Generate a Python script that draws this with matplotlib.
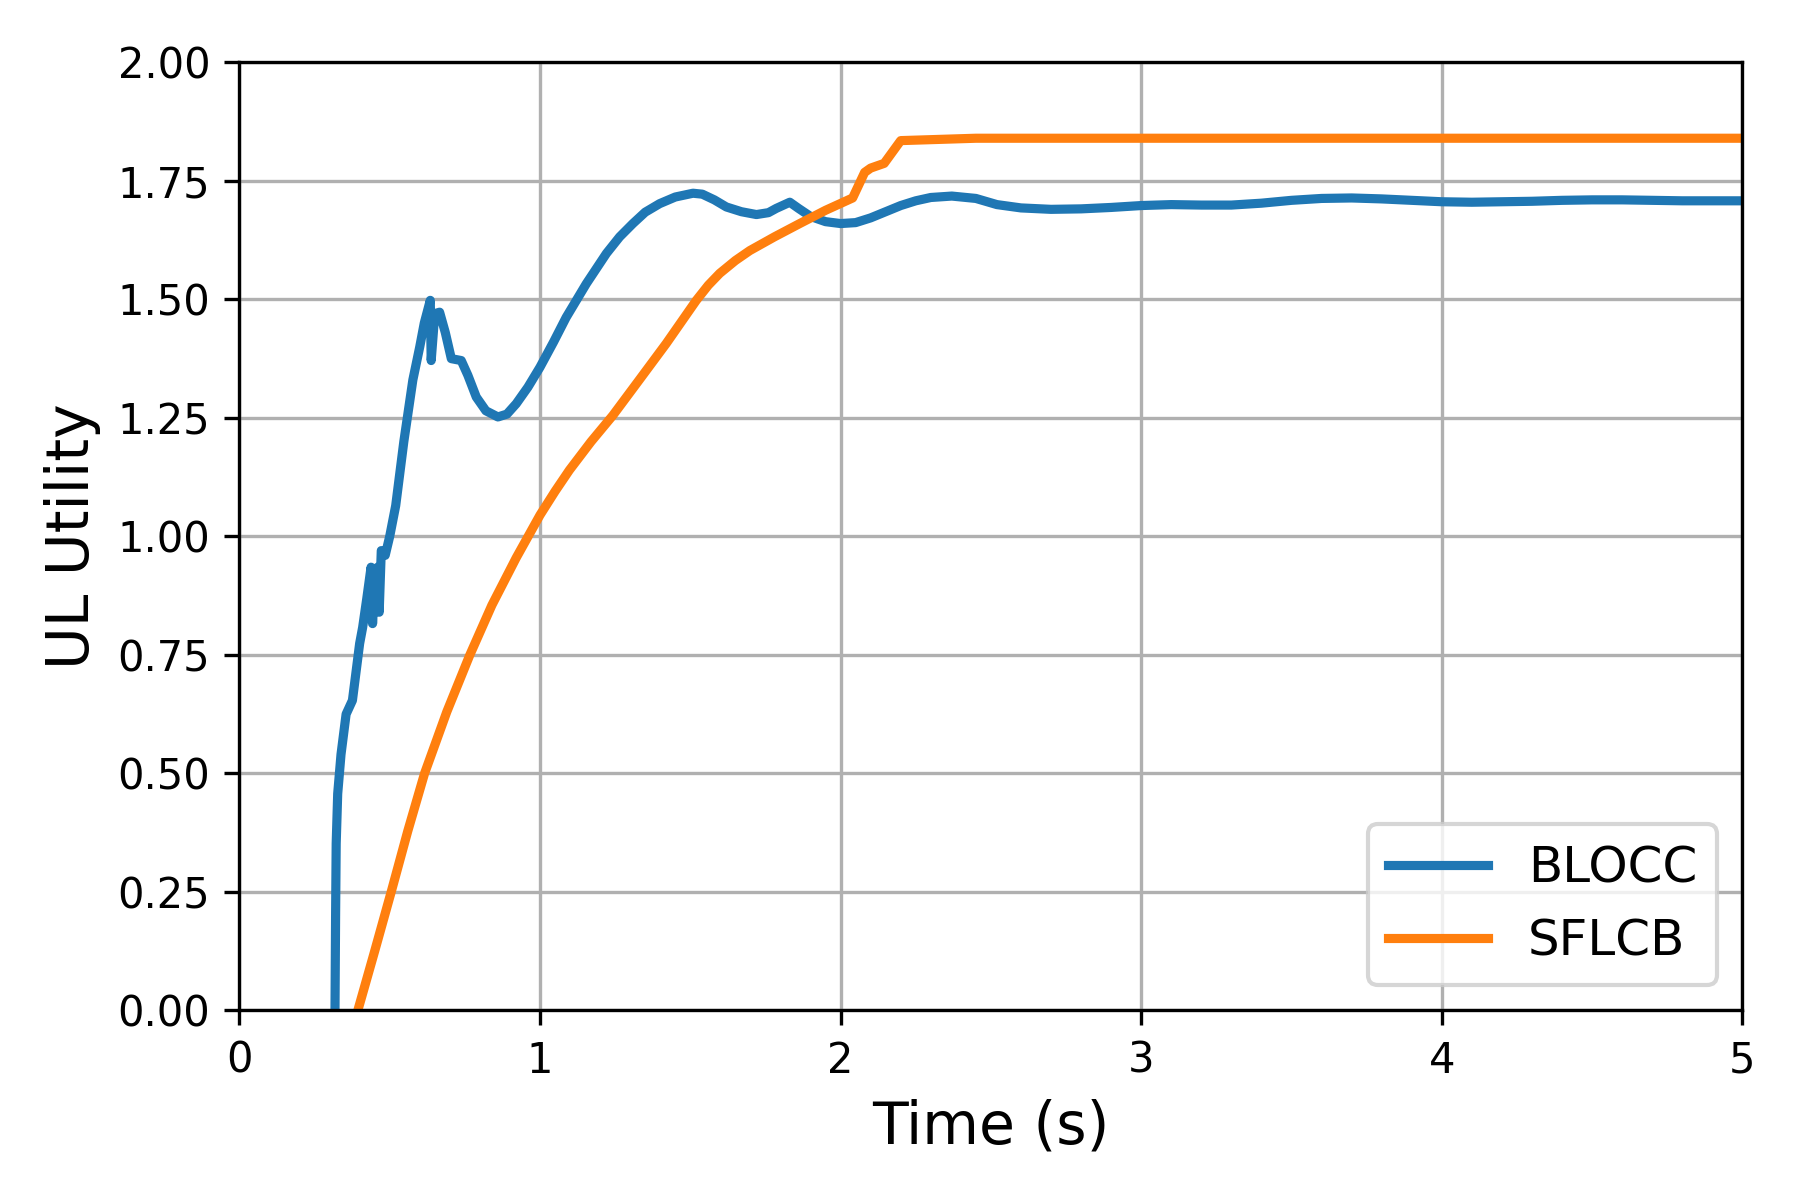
import numpy as np
import matplotlib
matplotlib.use('Agg')
import matplotlib.pyplot as plt

# BLOCC curve
blocc_t = [0.318, 0.320, 0.322, 0.327, 0.338, 0.355, 0.376, 0.40, 0.41, 0.424,
           0.438, 0.443, 0.452, 0.46, 0.465, 0.472, 0.485, 0.50, 0.52, 0.547,
           0.577, 0.60, 0.615, 0.635, 0.638, 0.650, 0.666, 0.685, 0.705, 0.738,
           0.76, 0.788, 0.82, 0.86, 0.89, 0.921, 0.96, 1.00, 1.045, 1.087,
           1.154, 1.221, 1.265, 1.309, 1.35, 1.398, 1.45, 1.509, 1.54, 1.58,
           1.62, 1.67, 1.72, 1.76, 1.786, 1.831, 1.86, 1.90, 1.95, 2.00,
           2.05, 2.10, 2.15, 2.20, 2.25, 2.30, 2.37, 2.45, 2.52, 2.60,
           2.70, 2.80, 2.90, 3.00, 3.10, 3.20, 3.30, 3.40, 3.50, 3.60,
           3.70, 3.80, 3.90, 4.00, 4.10, 4.20, 4.30, 4.40, 4.50, 4.60,
           4.70, 4.80, 4.90, 5.00]
blocc_y = [0.0, 0.20, 0.352, 0.457, 0.540, 0.625, 0.654, 0.774, 0.808, 0.87,
           0.935, 0.816, 0.93, 0.935, 0.84, 0.97, 0.96, 1.00, 1.065, 1.20,
           1.33, 1.40, 1.45, 1.498, 1.371, 1.47, 1.473, 1.43, 1.375, 1.371,
           1.34, 1.294, 1.265, 1.252, 1.258, 1.28, 1.315, 1.357, 1.41, 1.462,
           1.533, 1.597, 1.632, 1.66, 1.684, 1.702, 1.716, 1.724, 1.722, 1.71,
           1.695, 1.685, 1.679, 1.683, 1.692, 1.705, 1.692, 1.675, 1.664, 1.66,
           1.662, 1.672, 1.685, 1.698, 1.708, 1.715, 1.718, 1.713, 1.70, 1.693,
           1.69, 1.691, 1.694, 1.698, 1.70, 1.699, 1.699, 1.703, 1.709, 1.713,
           1.714, 1.712, 1.709, 1.706, 1.705, 1.706, 1.707, 1.709, 1.71, 1.71,
           1.709, 1.708, 1.708, 1.708]

# SFLCB curve
sflcb_t = [0.394, 0.45, 0.505, 0.56, 0.616, 0.69, 0.766, 0.84, 0.921, 1.00,
           1.05, 1.098, 1.17, 1.242, 1.33, 1.42, 1.52, 1.56, 1.598, 1.65,
           1.698, 1.78, 1.864, 1.95, 2.04, 2.08, 2.10, 2.145, 2.20, 2.45,
           3.0, 4.0, 5.0]
sflcb_y = [0.0, 0.125, 0.25, 0.378, 0.50, 0.63, 0.749, 0.855, 0.955, 1.045,
           1.095, 1.14, 1.20, 1.255, 1.33, 1.407, 1.498, 1.53, 1.555, 1.582,
           1.603, 1.632, 1.66, 1.688, 1.714, 1.768, 1.777, 1.787, 1.835, 1.84,
           1.84, 1.84, 1.84]

fig = plt.figure(figsize=(6, 4), dpi=300)
ax = fig.add_axes([0.133, 0.158, 0.835, 0.79])

ax.plot(blocc_t, blocc_y, color='#1f77b4', linewidth=2.2, label='BLOCC')
ax.plot(sflcb_t, sflcb_y, color='#ff7f0e', linewidth=2.2, label='SFLCB')

ax.set_xlim(0, 5)
ax.set_ylim(0, 2)
ax.set_xticks([0, 1, 2, 3, 4, 5])
ax.set_yticks(np.arange(0, 2.01, 0.25))
ax.set_yticklabels(['0.00', '0.25', '0.50', '0.75', '1.00', '1.25', '1.50', '1.75', '2.00'])
ax.tick_params(labelsize=10)
ax.grid(True)
ax.set_xlabel('Time (s)', fontsize=14)
ax.set_ylabel('UL Utility', fontsize=14)
ax.legend(loc='lower right', fontsize=12)

plt.savefig('out.png')
